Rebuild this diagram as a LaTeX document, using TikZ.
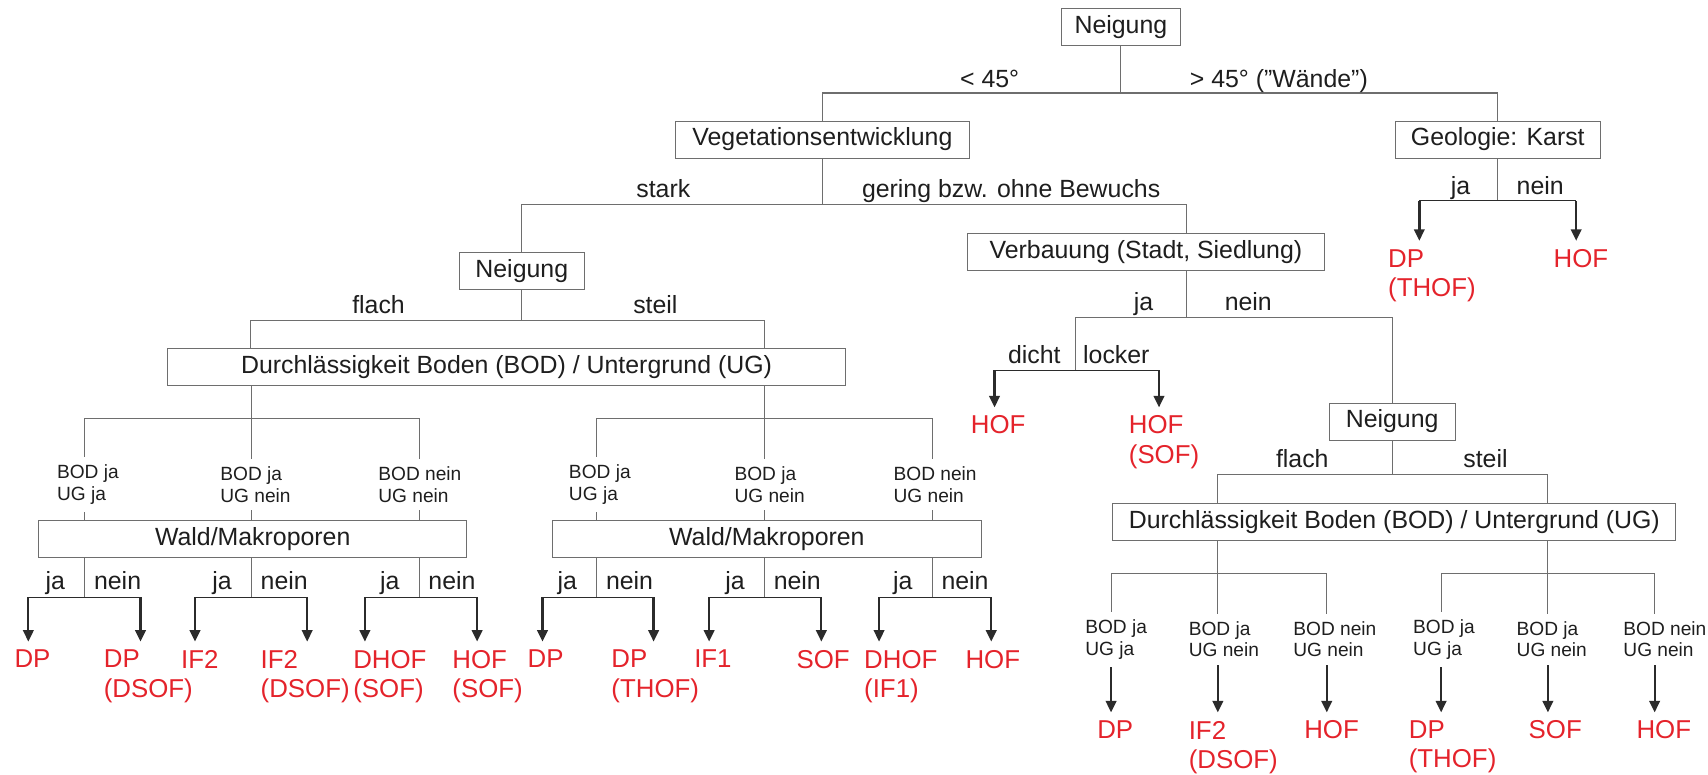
\documentclass[tikz,border=0pt]{standalone}
\usepackage{fontspec}
\setmainfont{Liberation Sans}
\usetikzlibrary{positioning,arrows.meta,calc}
\definecolor{linegray}{HTML}{6E6E6E}
\definecolor{darkline}{HTML}{2B2B2B}
\definecolor{txtgray}{HTML}{1E1E1E}
\definecolor{red}{HTML}{E4232B}

\begin{document}
\begin{tikzpicture}[x=0.02cm, y=-0.02cm,
    box/.style={draw=linegray, fill=white, minimum height=0.68cm, inner sep=0pt,
                font=\fontsize{13}{15}\selectfont, text=txtgray},
    lbl/.style={font=\fontsize{13}{15}\selectfont, inner sep=0pt, text=txtgray},
    cond/.style={font=\fontsize{10}{11.2}\selectfont, align=left, anchor=west,
                 inner xsep=0pt, inner ysep=0.14cm, text=txtgray},
    res/.style={font=\fontsize{13.5}{15.2}\selectfont, text=red, align=left,
                anchor=north west, inner xsep=0pt, inner ysep=0.15cm},
    tree/.style={draw=linegray, line width=0.55pt},
    bar/.style={draw=darkline, line width=0.7pt},
    arr/.style={draw=darkline, line width=1.2pt, -{Triangle[length=6pt, width=5.5pt]}},
  ]
  \useasboundingbox (0,0) rectangle (1568,711);

  % Neigung (oben)
  \node[box, minimum width=2.2cm] (neig) at (1029,25) {Neigung};
  \node[box, minimum width=5.4cm] (veg) at (755,128) {Vegetationsentwicklung};
  \node[box, minimum width=3.76cm] (geo) at (1375,128) {Geologie: Karst};
  \draw[tree] (neig.south) -- ++(0,43) coordinate (b0) -| (veg.north);
  \draw[tree] (b0) -| (geo.north);
  \node[lbl, anchor=base east] (lt45) at (936,80) {< 45°};
  \node[lbl, anchor=base west] (gt45) at (1092,80) {> 45° (''Wände'')};

  % Geologie
  \draw[tree] (geo.south) -- ++(0,39) coordinate (b2);
  \draw[bar] (b2 -| 1303,0) -- (b2 -| 1447,0);
  \node[res] (gja) at (1274,221) {DP\\(THOF)};
  \node[res] (gnein) at (1426,221) {HOF};
  \draw[arr] (b2 -| 1303,0) -- (gja.north -| 1303,0);
  \draw[arr] (b2 -| 1447,0) -- (gnein.north -| 1447,0);
  \node[lbl, anchor=base east] (gj) at (1350,179) {ja};
  \node[lbl, anchor=base west] (gn) at (1392,179) {nein};

  % Vegetation
  \node[box, minimum width=2.3cm] (neigL) at (479,249) {Neigung};
  \node[box, minimum width=6.56cm] (verb) at (1052,231) {Verbauung (Stadt, Siedlung)};
  \draw[tree] (veg.south) -- ++(0,42) coordinate (b1) -| (neigL.north);
  \draw[tree] (b1) -| ($(verb.north)+(37,0)$);
  \node[lbl, anchor=base east] (stark) at (634,181) {stark};
  \node[lbl, anchor=base west] (gering) at (791,181) {gering bzw. ohne Bewuchs};

  % Neigung links
  \node[box, minimum width=12.46cm] (durchL) at (465,337) {Durchlässigkeit Boden (BOD) / Untergrund (UG)};
  \draw[tree] (neigL.south) -- ++(0,28) coordinate (b3) -| (durchL.north -| 230,0);
  \draw[tree] (b3) -| (durchL.north -| 702,0);
  \node[lbl, anchor=base east] (flL) at (372,288) {flach};
  \node[lbl, anchor=base west] (stL) at (581,288) {steil};

  % Verbauung
  \node[box, minimum width=2.32cm] (neigR) at (1278,387) {Neigung};
  \coordinate (b5) at (987,340);
  \draw[tree] ($(verb.south)+(37,0)$) -- ++(0,43) coordinate (b4) -| (b5);
  \draw[tree] (b4) -| (neigR.north);
  \node[lbl, anchor=base east] (vj) at (1059,285) {ja};
  \node[lbl, anchor=base west] (vn) at (1124,285) {nein};

  % dicht / locker
  \draw[bar] (b5 -| 913,0) -- (b5 -| 1064,0);
  \node[res] (dja) at (891,374) {HOF};
  \node[res] (dnein) at (1036,374) {HOF\\(SOF)};
  \draw[arr] (b5 -| 913,0) -- (dja.north -| 913,0);
  \draw[arr] (b5 -| 1064,0) -- (dnein.north -| 1064,0);
  \node[lbl, anchor=base east] (dicht) at (974,334) {dicht};
  \node[lbl, anchor=base west] (locker) at (994,334) {locker};

  % Neigung rechts
  \node[box, minimum width=10.34cm] (durchR) at (1280,479) {Durchlässigkeit Boden (BOD) / Untergrund (UG)};
  \draw[tree] (neigR.south) -- ++(0,31) coordinate (b6) -| (durchR.north -| 1118,0);
  \draw[tree] (b6) -| (durchR.north -| 1421,0);
  \node[lbl, anchor=base east] (flR) at (1220,429) {flach};
  \node[lbl, anchor=base west] (stR) at (1343,429) {steil};

  % Wald/Makroporen
  \node[box, minimum width=7.86cm] (waldL) at (232,495) {Wald/Makroporen};
  \node[box, minimum width=7.88cm] (waldR) at (704,495) {Wald/Makroporen};

  \foreach \s/\w/\x/\xt/\cnd [count=\i] in {
      231/waldL/78/52/{BOD ja\\UG ja}, 231/waldL/231/202/{BOD ja\\UG nein},
      231/waldL/385/347/{BOD nein\\UG nein}, 702/waldR/548/522/{BOD ja\\UG ja},
      702/waldR/702/674/{BOD ja\\UG nein}, 702/waldR/856/820/{BOD nein\\UG nein}}{
    \node[cond] (cl\i) at (\xt,445) {\cnd};
    \draw[tree] (durchL.south -| \s,0) -- ++(0,30) -| (cl\i.north -| \x,0);
    \draw[tree] (cl\i.south -| \x,0) -- (\w.north -| \x,0);
  }

  \foreach \w/\x/\xl/\xr/\pa/\ta/\pb/\tb [count=\i] in {
      waldL/78/26/129/13/DP/95/{DP\\(DSOF)},
      waldL/231/179/282/166/IF2/239/{IF2\\(DSOF)},
      waldL/385/335/438/324/{DHOF\\(SOF)}/415/{HOF\\(SOF)},
      waldR/548/498/600/484/DP/561/{DP\\(THOF)},
      waldR/702/651/754/637/IF1/731/SOF,
      waldR/856/807/910/793/{DHOF\\(IF1)}/886/HOF}{
    \node[res] (rj\i) at (\pa,589) {\ta};
    \node[res] (rn\i) at (\pb,589) {\tb};
    \draw[tree] (\w.south -| \x,0) -- ++(0,36) coordinate (sp\i);
    \draw[bar] (sp\i -| \xl,0) -- (sp\i -| \xr,0);
    \draw[arr] (sp\i -| \xl,0) -- (rj\i.north -| \xl,0);
    \draw[arr] (sp\i -| \xr,0) -- (rn\i.north -| \xr,0);
    \node[lbl, anchor=base east] (lj\i) at (\x-18,541) {ja};
    \node[lbl, anchor=base west] (ln\i) at (\x+8,541) {nein};
  }

  % Durchlaessigkeit rechts
  \foreach \s/\x/\xt/\cnd/\pb/\tb [count=\i] in {
      1118/1020/996/{BOD ja\\UG ja}/1007/DP,
      1118/1118/1091/{BOD ja\\UG nein}/1091/{IF2\\(DSOF)},
      1118/1218/1187/{BOD nein\\UG nein}/1197/HOF,
      1421/1323/1297/{BOD ja\\UG ja}/1293/{DP\\(THOF)},
      1421/1421/1392/{BOD ja\\UG nein}/1403/SOF,
      1421/1519/1490/{BOD nein\\UG nein}/1502/HOF}{
    \node[cond] (cr\i) at (\xt,587) {\cnd};
    \node[res] (rr\i) at (\pb,654) {\tb};
    \draw[tree] (durchR.south -| \s,0) -- ++(0,30) -| (cr\i.north -| \x,0);
    \draw[arr] (cr\i.south -| \x,0) -- (rr\i.north -| \x,0);
  }
\end{tikzpicture}
\end{document}
